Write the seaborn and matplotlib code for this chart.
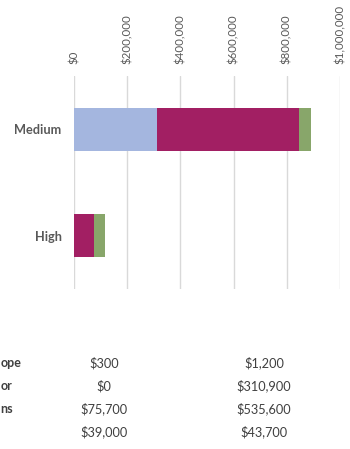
import matplotlib
matplotlib.use("Agg")
import matplotlib.pyplot as plt
import matplotlib.ticker as mticker
import seaborn as sns
import pandas as pd
import numpy as np

sns.set_theme(style="white")
plt.rcParams['font.family'] = ['Lato', 'DejaVu Sans']

categories = ["High", "Medium"]
series_names = ["Envelope", "Interior", "Additions", "Site"]
# row labels as they appear (cut at the left edge) in the reference table
row_labels = ["ope", "or", "ns", ""]
envelope = [300, 1200]
interior = [0, 310900]
additions = [75700, 535600]
site = [39000, 43700]
colors = ["#F4B183", "#A4B6DF", "#A21F63", "#88A66A"]
xticks = [0, 200000, 400000, 600000, 800000, 1000000]

values = [envelope, interior, additions, site]

fig = plt.figure(figsize=(3.5, 4.49), dpi=100)
ax = fig.add_axes([74/350, 1-289/449, (340-74)/350, (289-76)/449])

plot_order = ["Medium", "High"]
left = np.zeros(len(plot_order))
for name, vals, col in zip(series_names, values, colors):
    d = dict(zip(categories, vals))
    df = pd.DataFrame({"cat": plot_order, "val": [d[c] for c in plot_order]})
    sns.barplot(data=df, y="cat", x="val", orient="h", color=col, ax=ax,
                left=left, width=0.4, saturation=1, edgecolor="none", linewidth=0)
    left = left + df["val"].to_numpy()

ax.set_xlim(0, 1000000)
ax.set_ylim(1.5, -0.5)
ax.set_xticks(xticks)
ax.xaxis.set_major_formatter(mticker.FuncFormatter(lambda v, p: f"${int(v):,}"))
ax.xaxis.tick_top()
ax.tick_params(axis="x", labelrotation=90, labelsize=8.3, colors="#595959", length=0, pad=9)
ax.tick_params(axis="y", labelsize=9.2, colors="#595959", length=0, pad=9)
for lbl in ax.get_yticklabels():
    lbl.set_fontweight("bold")
ax.set_xlabel("")
ax.set_ylabel("")
ax.grid(axis="x", color="#D9D9D9", linewidth=1)
ax.set_axisbelow(True)
for s in ax.spines.values():
    s.set_visible(False)

# data table below
row_y = [363, 386, 409, 432]
col_x = {"High": 104, "Medium": 264}
for lab, vals, yy in zip(row_labels, values, row_y):
    if lab:
        fig.text(0.5/350, 1 - yy/449, lab, ha="left", va="center", fontsize=9,
                 color="#404040", fontweight="bold")
    for c, v in zip(categories, vals):
        fig.text(col_x[c]/350, 1 - yy/449, f"${v:,}", ha="center", va="center",
                 fontsize=9.2, color="#404040")

fig.savefig("out.png", dpi=100)
